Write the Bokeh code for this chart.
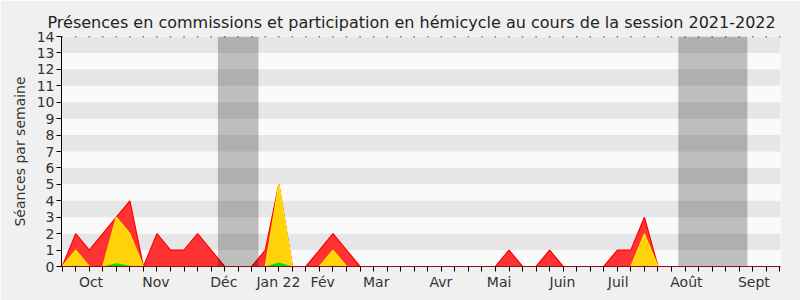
from bokeh.plotting import figure
from bokeh.models import Range1d, FixedTicker, ColumnDataSource
from bokeh.embed import file_html
from bokeh.resources import INLINE

# Weekly data (index = week of the session)
weeks = list(range(54))
total = [0, 2, 1, 2, 3, 4, 0, 2, 1, 1, 2, 1, 0, 0, 0, 1, 5, 0, 0, 1, 2, 1, 0, 0,
         0, 0, 0, 0, 0, 0, 0, 0, 0, 1, 0, 0, 1, 0, 0, 0, 0, 1, 1, 3, 0, 0, 0, 0,
         0, 0, 0, 0, 0, 0]
hemicycle = [0, 1, 0, 0, 3, 2, 0, 0, 0, 0, 0, 0, 0, 0, 0, 0, 5, 0, 0, 0, 1, 0, 0, 0,
             0, 0, 0, 0, 0, 0, 0, 0, 0, 0, 0, 0, 0, 0, 0, 0, 0, 0, 0, 2, 0, 0, 0, 0,
             0, 0, 0, 0, 0, 0]
interventions = [0, 0.05, 0, 0, 0.2, 0.05, 0, 0, 0, 0, 0, 0, 0, 0, 0, 0, 0.25, 0, 0, 0, 0.05, 0, 0, 0,
                 0, 0, 0, 0, 0, 0, 0, 0, 0, 0, 0, 0, 0, 0, 0, 0, 0, 0, 0, 0.05, 0, 0, 0, 0,
                 0, 0, 0, 0, 0, 0]

vacances_debut = [11.5, 45.5]
vacances_fin = [14.5, 50.6]

mois_labels = ["Oct", "Nov", "Déc", "Jan 22", "Fév", "Mar", "Avr", "Mai", "Juin", "Juil", "Août", "Sept"]
mois_pos = [2.13, 6.92, 11.94, 15.97, 19.24, 23.19, 27.97, 32.27, 36.95, 41.06, 46.1, 51.08]

y_ticks = list(range(15))

FONT = "DejaVu Sans"

p = figure(width=800, height=300, output_backend="svg", toolbar_location=None,
           x_range=Range1d(-0.05, 53.05), y_range=Range1d(0, 14),
           min_border_left=61, min_border_right=20, min_border_top=36, min_border_bottom=34,
           title="Présences en commissions et participation en hémicycle au cours de la session 2021-2022")

p.border_fill_color = "#f0f0f0"
p.background_fill_color = "#fafafa"
p.outline_line_color = None

p.title.align = "left"
p.title.text_font = FONT
p.title.text_font_size = "16px"
p.title.text_font_style = "normal"
p.title.text_color = "#222222"
p.title.offset = -14

# bands
p.xgrid.grid_line_color = None
p.ygrid.grid_line_color = None
p.ygrid.ticker = FixedTicker(ticks=y_ticks)
p.ygrid.band_fill_color = "#e6e6e6"
p.ygrid.band_fill_alpha = 1.0

src = ColumnDataSource(dict(x=weeks, total=total, hem=hemicycle, inter=interventions))

p.varea(x="x", y1=0, y2="total", source=src, fill_color="#ff3333")
p.line(x="x", y="total", source=src, line_color="#ff0000", line_width=1.2)
p.varea(x="x", y1=0, y2="hem", source=src, fill_color="#ffd20a")
p.line(x="x", y="hem", source=src, line_color="#ffe600", line_width=1.2)
p.varea(x="x", y1=0, y2="inter", source=src, fill_color="#00e000")

# vacation
p.quad(left=vacances_debut, right=vacances_fin, bottom=0, top=14,
       fill_color="black", fill_alpha=0.24, line_color=None)

# top dots
p.scatter(x=weeks, y=[14] * len(weeks), marker="square", size=1.4, color="black", line_color=None)

# axes
xa = p.xaxis[0]
xa.ticker = FixedTicker(ticks=mois_pos, minor_ticks=weeks)
xa.major_label_overrides = {pos: lab for pos, lab in zip(mois_pos, mois_labels)}
xa.major_tick_out = 0
xa.major_tick_in = 0
xa.minor_tick_out = 5
xa.minor_tick_in = 0
xa.minor_tick_line_color = "#000000"
xa.axis_line_color = "#8b1010"
xa.major_label_text_font = FONT
xa.major_label_text_font_size = "14px"
xa.major_label_text_color = "#333333"
xa.major_label_standoff = 2

ya = p.yaxis[0]
ya.ticker = FixedTicker(ticks=y_ticks)
ya.minor_tick_line_color = None
ya.major_tick_out = 5
ya.major_tick_in = 0
ya.axis_line_color = "#000000"
ya.major_label_text_font = FONT
ya.major_label_text_font_size = "14px"
ya.major_label_text_color = "#333333"
ya.major_label_standoff = 2
ya.axis_label = "Séances par semaine"
ya.axis_label_text_font = FONT
ya.axis_label_text_font_size = "14px"
ya.axis_label_text_font_style = "normal"
ya.axis_label_text_color = "#333333"
ya.axis_label_standoff = 6

open("out.html", "w").write(file_html(p, INLINE))
